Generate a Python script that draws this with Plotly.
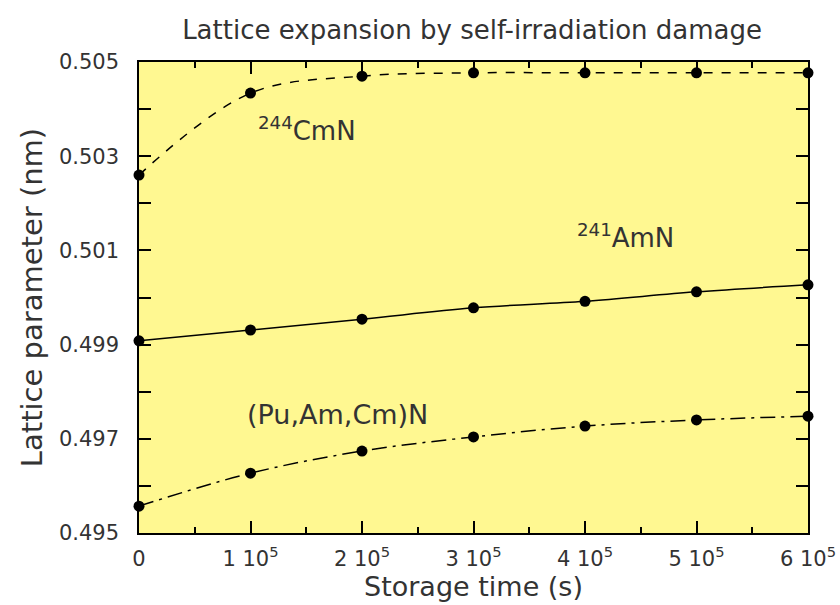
import plotly.graph_objects as go

time_s = [0, 1e5, 2e5, 3e5, 4e5, 5e5, 6e5]
cmn_244 = [0.5026, 0.50434, 0.5047, 0.50477, 0.50477, 0.50477, 0.50477]
amn_241 = [0.49908, 0.49931, 0.49954, 0.49978, 0.49992, 0.50012, 0.50027]
puamcm_n = [0.49557, 0.49627, 0.49674, 0.49704, 0.49727, 0.4974, 0.49748]

x_tickvals = [0, 1e5, 2e5, 3e5, 4e5, 5e5, 6e5]
x_ticktext = ["0", "1 10<sup>5</sup>", "2 10<sup>5</sup>", "3 10<sup>5</sup>",
              "4 10<sup>5</sup>", "5 10<sup>5</sup>", "6 10<sup>5</sup>"]
y_tickvals = [0.495, 0.497, 0.499, 0.501, 0.503, 0.505]
y_ticktext = ["0.495", "0.497", "0.499", "0.501", "0.503", "0.505"]

FONT = "DejaVu Sans, sans-serif"
TXT = "#333333"

fig = go.Figure()
fig.add_trace(go.Scatter(x=time_s, y=cmn_244, mode="lines+markers",
                         line=dict(color="black", width=1.5, dash="dash", shape="spline"),
                         marker=dict(color="black", size=11), cliponaxis=False))
fig.add_trace(go.Scatter(x=time_s, y=amn_241, mode="lines+markers",
                         line=dict(color="black", width=1.5, shape="spline"),
                         marker=dict(color="black", size=11), cliponaxis=False))
fig.add_trace(go.Scatter(x=time_s, y=puamcm_n, mode="lines+markers",
                         line=dict(color="black", width=1.5, dash="longdashdot", shape="spline"),
                         marker=dict(color="black", size=11), cliponaxis=False))

fig.add_annotation(x=1.51e5, y=0.50358, text="<sup>244</sup>CmN", showarrow=False,
                   font=dict(size=26, color=TXT, family=FONT))
fig.add_annotation(x=4.36e5, y=0.5013, text="<sup>241</sup>AmN", showarrow=False,
                   font=dict(size=26, color=TXT, family=FONT))
fig.add_annotation(x=1.78e5, y=0.49751, text="(Pu,Am,Cm)N", showarrow=False,
                   font=dict(size=27, color=TXT, family=FONT))

fig.update_layout(
    width=840, height=605,
    margin=dict(l=139, r=32, t=62, b=72, autoexpand=False),
    paper_bgcolor="white", plot_bgcolor="#FFF891",
    showlegend=False,
    font=dict(family=FONT, color=TXT, size=21),
    title=dict(text="Lattice expansion by self-irradiation damage", x=0.562, xanchor="center",
               y=0.95, yanchor="middle", font=dict(size=26, family=FONT, color=TXT)),
)
fig.update_xaxes(range=[0, 6e5], tickvals=x_tickvals, ticktext=x_ticktext, automargin=False,
                 ticks="inside", ticklen=12, tickwidth=1.5, tickcolor="black",
                 minor=dict(dtick=5e4, ticks="inside", ticklen=6, tickwidth=1.5, tickcolor="black"),
                 showline=True, linecolor="black", linewidth=1.5, mirror="allticks",
                 showgrid=False, zeroline=False, ticklabelstandoff=6,
                 title=dict(text="Storage time (s)", font=dict(size=27), standoff=7),
                 tickfont=dict(size=21))
fig.update_yaxes(range=[0.495, 0.505], tickvals=y_tickvals, ticktext=y_ticktext, automargin=False,
                 ticks="inside", ticklen=12, tickwidth=1.5, tickcolor="black",
                 minor=dict(dtick=0.001, tick0=0.495, ticks="inside", ticklen=12, tickwidth=1.5, tickcolor="black"),
                 showline=True, linecolor="black", linewidth=1.5, mirror="allticks",
                 showgrid=False, zeroline=False, ticklabelstandoff=14,
                 title=dict(text="Lattice parameter (nm)", font=dict(size=29), standoff=8),
                 tickfont=dict(size=21))

fig.write_html("out.html")
